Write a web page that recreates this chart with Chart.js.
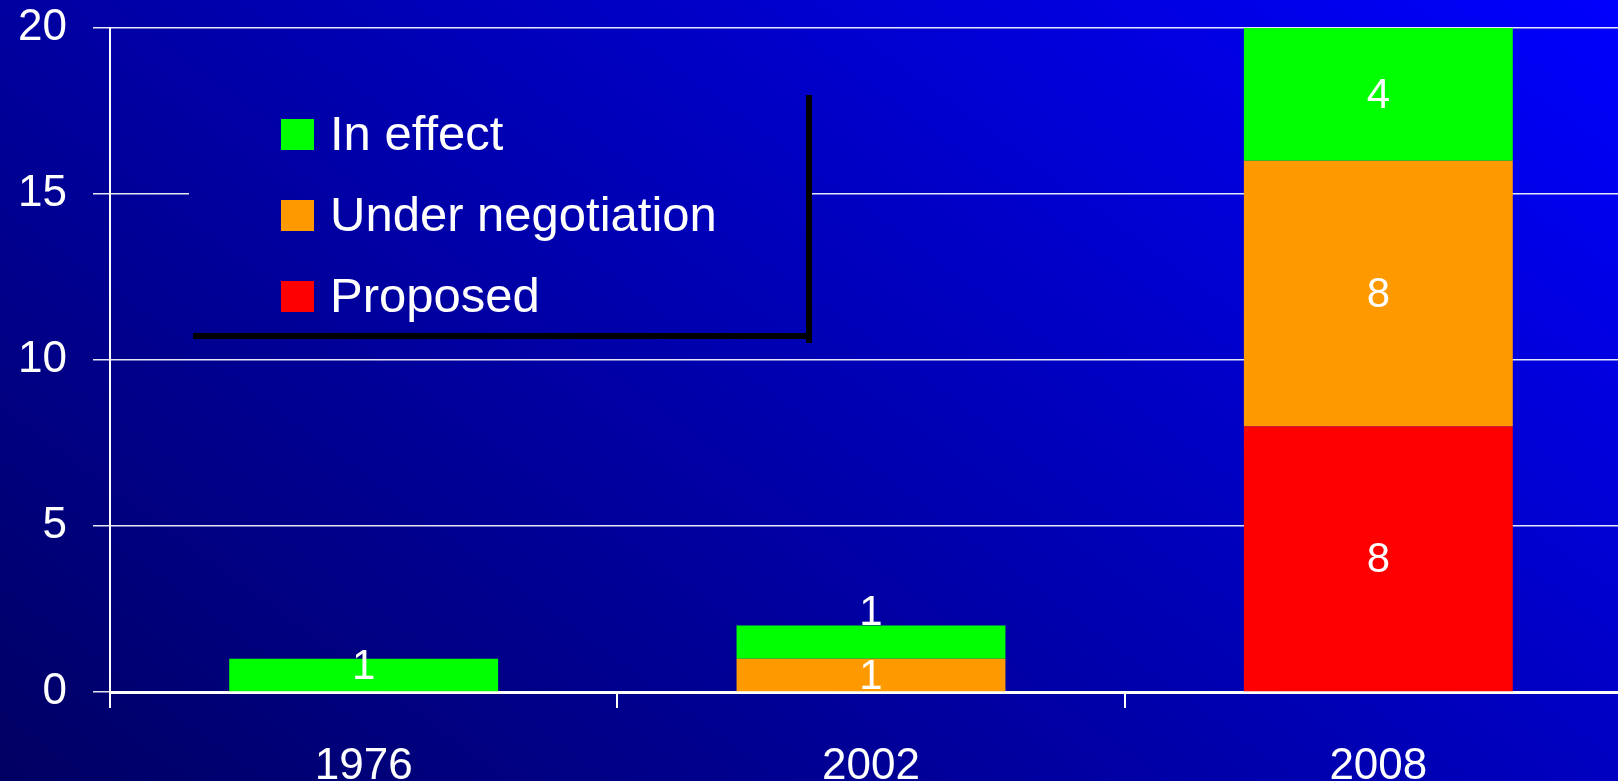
<!DOCTYPE html>
<html>
<head>
<meta charset="utf-8">
<script src="https://cdn.jsdelivr.net/npm/chart.js@4.4.1/dist/chart.umd.min.js"></script>
<style>
    html, body { margin: 0; padding: 0; overflow: hidden; background: #0000a0; }
    #wrap { position: relative; width: 1632px; height: 781px; }
</style>
</head>
<body>
<div id="wrap"><canvas id="treatyChart"></canvas></div>
<script>
const categories = ['1976', '2002', '2008'];
const inEffect = [1, 1, 4];
const underNegotiation = [0, 1, 8];
const proposed = [0, 0, 8];
const yTicks = [0, 5, 10, 15, 20];

const FONT = '"Liberation Sans", Arial, sans-serif';

function makeBackground(ctx) {
    const g = ctx.createLinearGradient(287, 1100, 1288, -262);
    g.addColorStop(0, 'rgb(0,0,90)');
    g.addColorStop(0.52, 'rgb(0,0,176)');
    g.addColorStop(1, 'rgb(0,0,255)');
    return g;
}

const backgroundPlugin = {
    id: 'bg',
    beforeDraw(chart) {
        const ctx = chart.ctx;
        ctx.save();
        ctx.fillStyle = makeBackground(ctx);
        ctx.fillRect(0, 0, chart.width, chart.height);
        ctx.restore();
    }
};

// legend box sits over the grid, like the original slide
const boxLegendPlugin = {
    id: 'boxLegend',
    beforeDatasetsDraw(chart, args, opts) {
        const ctx = chart.ctx;
        const b = opts.box;
        ctx.save();
        ctx.fillStyle = makeBackground(ctx);
        ctx.fillRect(b.x, b.y, b.w, b.h);
        ctx.fillStyle = '#000';
        ctx.fillRect(b.x + b.w, b.y + 4, 6, b.h + 6);
        ctx.fillRect(b.x + 4, b.y + b.h, b.w + 2, 6);

        const items = chart.data.datasets.slice().reverse();
        ctx.font = opts.fontSize + 'px ' + FONT;
        ctx.textBaseline = 'middle';
        ctx.textAlign = 'left';
        items.forEach((ds, i) => {
            const cy = opts.firstRow + i * opts.rowGap;
            ctx.fillStyle = ds.backgroundColor;
            ctx.fillRect(opts.swatchX, cy - 15, 33, 31);
            ctx.fillStyle = '#fff';
            ctx.fillText(ds.label, opts.textX, cy + 2);
        });
        ctx.restore();
    }
};

const valueLabelPlugin = {
    id: 'valueLabels',
    afterDatasetsDraw(chart, args, opts) {
        const ctx = chart.ctx;
        ctx.save();
        ctx.font = opts.fontSize + 'px ' + FONT;
        ctx.fillStyle = '#fff';
        ctx.textAlign = 'center';
        chart.data.datasets.forEach((ds, di) => {
            const meta = chart.getDatasetMeta(di);
            meta.data.forEach((el, i) => {
                const v = ds.data[i];
                if (!v) return;
                const key = ds.label + ':' + i;
                if (opts.above.includes(key)) {
                    ctx.textBaseline = 'alphabetic';
                    ctx.fillText(String(v), el.x, el.y - 1);
                } else {
                    ctx.textBaseline = 'middle';
                    const shift = opts.shift[key] || 0;
                    ctx.fillText(String(v), el.x, (el.y + el.base) / 2 + 2 + shift);
                }
            });
        });
        ctx.restore();
    }
};

function initTreatyChart() {
    const ctx = document.getElementById('treatyChart').getContext('2d');
    new Chart(ctx, {
        type: 'bar',
        data: {
            labels: categories,
            datasets: [
                { label: 'Proposed', data: proposed, backgroundColor: '#ff0000' },
                { label: 'Under negotiation', data: underNegotiation, backgroundColor: '#ff9900' },
                { label: 'In effect', data: inEffect, backgroundColor: '#00ff00' }
            ]
        },
        options: {
            responsive: true,
            maintainAspectRatio: false,
            animation: false,
            layout: { padding: { top: 28, right: 0, left: 0, bottom: 0 } },
            datasets: {
                bar: { categoryPercentage: 1, barPercentage: 0.53, borderWidth: 0 }
            },
            scales: {
                x: {
                    stacked: true,
                    offset: true,
                    grid: {
                        offset: true,
                        drawOnChartArea: false,
                        drawTicks: true,
                        tickLength: 16,
                        color: '#ffffff',
                        lineWidth: 2
                    },
                    border: { display: true, color: '#ffffff', width: 3 },
                    ticks: {
                        color: '#ffffff',
                        font: { family: FONT, size: 44 },
                        padding: 32,
                        maxRotation: 0
                    },
                    afterFit(scale) { scale.height = 89; }
                },
                y: {
                    stacked: true,
                    min: 0,
                    max: 20,
                    afterBuildTicks(scale) { scale.ticks = yTicks.map(v => ({ value: v })); },
                    grid: {
                        drawTicks: true,
                        tickLength: 17,
                        color: 'rgba(255,255,255,0.9)',
                        lineWidth: 1.5
                    },
                    border: { display: true, color: '#ffffff', width: 2 },
                    ticks: {
                        color: '#ffffff',
                        font: { family: FONT, size: 44 },
                        padding: 26
                    },
                    afterFit(scale) {
                        scale.width = 110;
                        scale.paddingTop = 0;
                        scale.paddingBottom = 0;
                    }
                }
            },
            plugins: {
                legend: { display: false },
                tooltip: { enabled: false },
                boxLegend: {
                    box: { x: 189, y: 91, w: 617, h: 242 },
                    fontSize: 49,
                    swatchX: 281,
                    textX: 330,
                    firstRow: 134,
                    rowGap: 81
                },
                valueLabels: {
                    fontSize: 42,
                    above: ['In effect:1'],
                    shift: { 'In effect:0': -10 }
                }
            }
        },
        plugins: [backgroundPlugin, boxLegendPlugin, valueLabelPlugin]
    });
}

initTreatyChart();
</script>
</body>
</html>
